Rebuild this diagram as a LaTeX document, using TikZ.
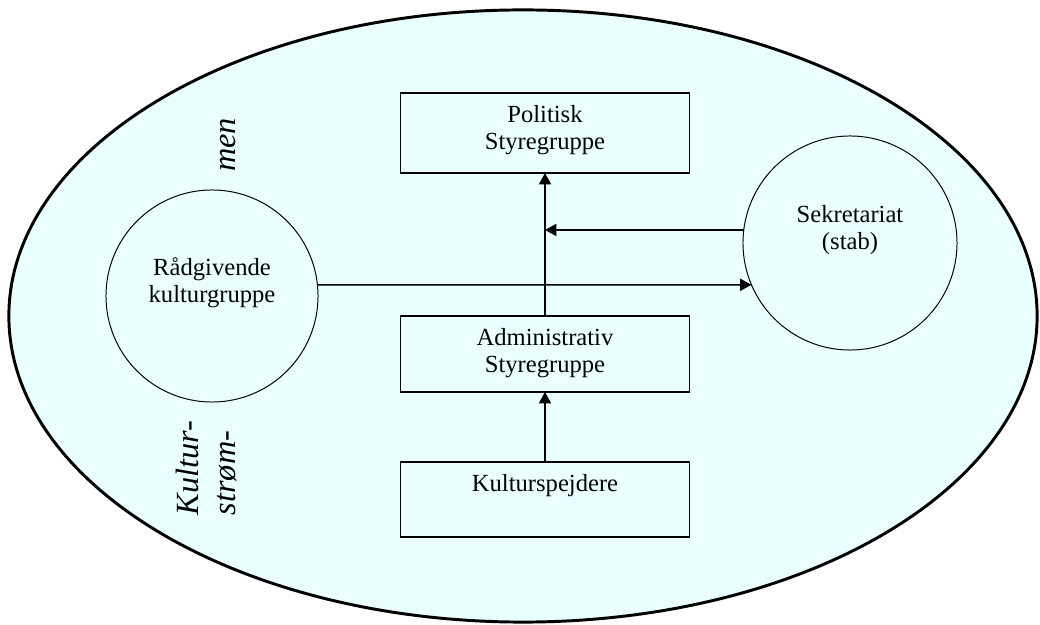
\documentclass[tikz,border=0pt]{standalone}
\usepackage{fontspec}
\setmainfont{Liberation Serif}
\usetikzlibrary{arrows.meta,positioning}
\definecolor{lagune}{RGB}{234,255,255}

\begin{document}
\begin{tikzpicture}[x=0.025cm,y=0.025cm,
    box/.style={draw,line width=1pt,minimum width=7.225cm,inner sep=0pt,outer sep=0pt},
    bubble/.style={draw,circle,line width=0.7pt,inner sep=0pt,outer sep=0pt},
    lbl/.style={align=center,font=\fontsize{17.5}{19.2}\selectfont},
    side/.style={rotate=90,font=\fontsize{23}{26}\selectfont\itshape},
    arr/.style={line width=1pt,-{Triangle[length=8pt,width=8.5pt]}}]
  \useasboundingbox (0,0) rectangle (1040,625);
  \draw[line width=2.1pt,fill=lagune] (523,309) ellipse [x radius=12.85cm,y radius=7.65cm];

  % boxes down the middle
  \node[box,minimum height=2cm,label={[lbl,anchor=north,yshift=-5pt]north:{Politisk\\Styregruppe}}] (pol) at (545,492) {};
  \node[box,minimum height=1.9cm,label={[lbl,anchor=north,yshift=-5pt]north:{Administrativ\\Styregruppe}}] (adm) at (545,271) {};
  \node[box,minimum height=1.875cm,label={[lbl,anchor=north,yshift=-5pt]north:{Kulturspejdere}}] (kul) at (545,125.5) {};

  % the two circles
  \node[bubble,minimum size=5.3cm,label={[lbl,yshift=0.325cm]center:{Rådgivende\\kulturgruppe}}] (rad) at (212,329) {};
  \node[bubble,minimum size=5.35cm,label={[lbl,yshift=0.325cm]center:{Sekretariat\\(stab)}}] (sek) at (850,382) {};

  % side text
  \node[side] (kult) at (187,157) {Kultur-};
  \node[side] (strom) at (227,152) {strøm-};
  \node[side] (men) at (228,480) {men};

  \coordinate (j) at (adm.north |- sek.173);
  \draw[arr] (kul) -- (adm);
  \draw[arr] (adm) -- (pol);
  \draw[arr] (sek.173) -- (j);
  \draw[arr] (rad.6) -- (sek.203);
\end{tikzpicture}
\end{document}
